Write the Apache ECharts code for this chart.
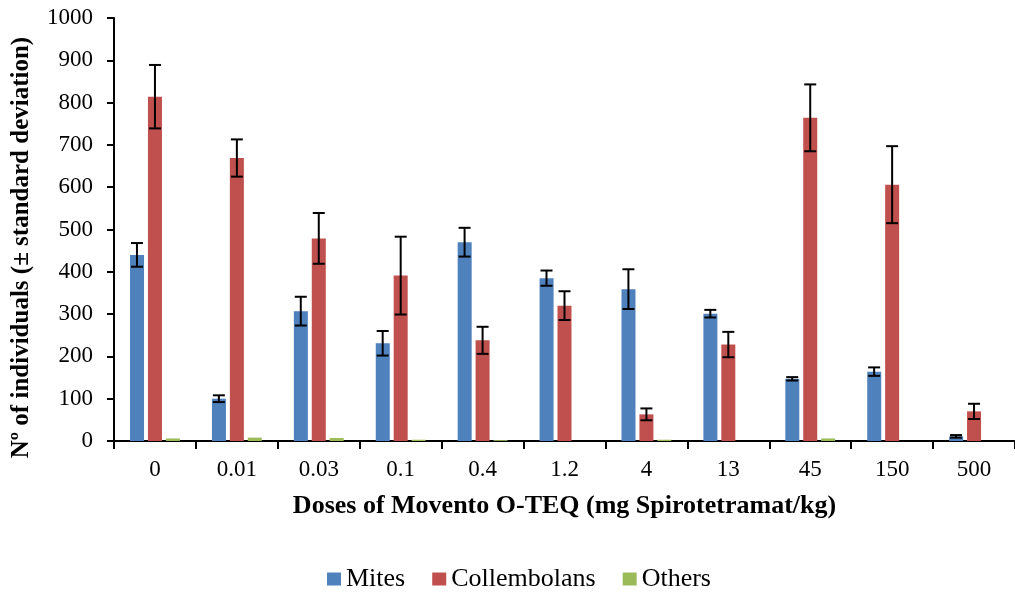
<!DOCTYPE html>
<html>
<head>
    <title>Movento doses</title>
    <script src="https://cdn.jsdelivr.net/npm/echarts@6.0.0/dist/echarts.min.js"></script>
    <style>
        html, body { margin: 0; padding: 0; background: #fff; }
    </style>
</head>
<body>
    <div id="chart" style="width: 1015px;height:592px;"></div>

    <script>
        // values
        const categories = ['0', '0.01', '0.03', '0.1', '0.4', '1.2', '4', '13', '45', '150', '500'];
        const mites = [440, 100, 307, 231, 470, 385, 359, 301, 147, 164, 11];
        const mitesSd = [28, 8, 34, 29, 34, 18, 47, 9, 4, 10, 3];
        const collembolans = [814, 669, 479, 391, 238, 320, 63, 228, 764, 606, 70];
        const collembolansSd = [75, 44, 60, 92, 32, 34, 14, 30, 79, 91, 18];
        const others = [6, 8, 7, 3, 2, 0, 3, 0, 6, 0, 0];
        const yTicks = { min: 0, max: 1000, interval: 100 };

        const BAR_W = 14;
        const BAR_STEP = 18; // bar width + gap, for placing error bars

        function errData(vals, sd) {
            return vals.map((v, i) => [i, v - sd[i], v + sd[i]]);
        }

        function errorSeries(name, vals, sd, shift) {
            return {
                name: name,
                type: 'custom',
                data: errData(vals, sd),
                encode: { x: 0, y: [1, 2] },
                z: 10,
                silent: true,
                renderItem: function (params, api) {
                    const lo = api.coord([api.value(0), api.value(1)]);
                    const hi = api.coord([api.value(0), api.value(2)]);
                    const x = lo[0] + shift;
                    const cap = 6;
                    const style = { stroke: '#000', lineWidth: 2 };
                    return {
                        type: 'group',
                        children: [
                            { type: 'line', shape: { x1: x, y1: hi[1], x2: x, y2: lo[1] }, style: style },
                            { type: 'line', shape: { x1: x - cap, y1: hi[1], x2: x + cap, y2: hi[1] }, style: style },
                            { type: 'line', shape: { x1: x - cap, y1: lo[1], x2: x + cap, y2: lo[1] }, style: style }
                        ]
                    };
                }
            };
        }

        const serif = '"Liberation Serif", "Times New Roman", serif';
        const chart = echarts.init(document.getElementById('chart'));

        chart.setOption({
            animation: false,
            textStyle: { fontFamily: serif, color: '#000' },
            grid: { left: 114, right: -6, top: 18, bottom: 151, containLabel: false },
            legend: {
                data: ['Mites', 'Collembolans', 'Others'],
                left: 322,
                top: 561,
                itemWidth: 14,
                itemHeight: 13,
                itemGap: 27,
                icon: 'rect',
                textStyle: { fontFamily: serif, fontSize: 26, color: '#000' }
            },
            xAxis: {
                type: 'category',
                data: categories,
                name: 'Doses of Movento O-TEQ (mg Spirotetramat/kg)',
                nameLocation: 'middle',
                nameGap: 52,
                nameTextStyle: { fontFamily: serif, fontSize: 26, fontWeight: 'bold', color: '#000' },
                axisLine: { lineStyle: { color: '#000', width: 2 } },
                axisTick: { show: true, length: 8, lineStyle: { color: '#000', width: 2 } },
                axisLabel: { fontFamily: serif, fontSize: 23, color: '#000', margin: 17 }
            },
            yAxis: {
                type: 'value',
                min: yTicks.min,
                max: yTicks.max,
                interval: yTicks.interval,
                name: 'Nº of individuals (± standard deviation)',
                nameLocation: 'middle',
                nameGap: 80,
                nameTextStyle: {
                    fontFamily: serif, fontSize: 25, fontWeight: 'bold', color: '#000',
                    padding: [0, 36, 0, 0]
                },
                axisLine: { show: true, lineStyle: { color: '#000', width: 2 } },
                axisTick: { show: true, length: 7, lineStyle: { color: '#000', width: 2 } },
                splitLine: { show: false },
                axisLabel: {
                    fontFamily: serif, fontSize: 23, color: '#000', margin: 21,
                    formatter: function (v) { return String(v); }
                }
            },
            series: [
                { name: 'Mites', type: 'bar', data: mites, barWidth: BAR_W, barGap: '28%', itemStyle: { color: '#4F81BD' } },
                { name: 'Collembolans', type: 'bar', data: collembolans, barWidth: BAR_W, barGap: '28%', itemStyle: { color: '#C0504D' } },
                { name: 'Others', type: 'bar', data: others, barWidth: BAR_W, barGap: '28%', itemStyle: { color: '#9BBB59' } },
                errorSeries('mitesErr', mites, mitesSd, -BAR_STEP),
                errorSeries('collembolansErr', collembolans, collembolansSd, 0)
            ]
        });
    </script>
</body>
</html>
